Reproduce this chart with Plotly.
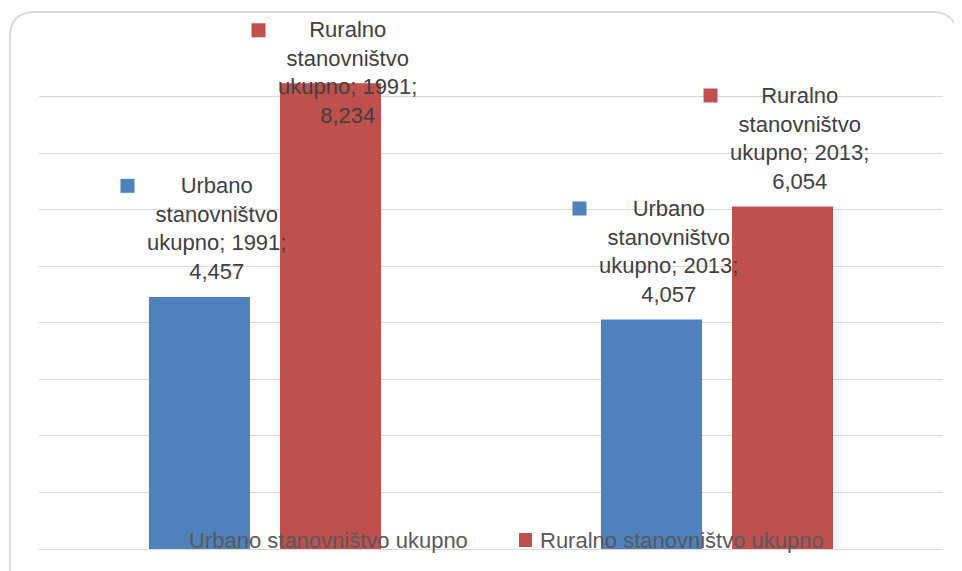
import plotly.graph_objects as go

# ---- data ----
categories = ["1991", "2013"]
series_names = ["Urbano stanovništvo ukupno", "Ruralno stanovništvo ukupno"]
label_names = ["Urbano<br>stanovništvo<br>ukupno", "Ruralno<br>stanovništvo<br>ukupno"]
urbano = [4.457, 4.057]
ruralno = [8.234, 6.054]
colors = ["#4F81BD", "#C0504D"]

# ---- layout constants (page has an 8px body margin) ----
OFF = 8
W, H = 962 - OFF, 571 - OFF
ML, MR, MT, MB = 39 - OFF, 19, 40 - OFF, 22
PLOT_W = W - ML - MR
PLOT_H = H - MT - MB
Y_MAX = 9
BARGAP = 0.42
BARGROUPGAP = 0.229
FONT = "Liberation Sans, Arial, sans-serif"
FS = 22
LINE_H = FS * 1.3
LABEL_COLOR = "#404040"

fig = go.Figure()
values = [urbano, ruralno]
for name, vals, col in zip(series_names, values, colors):
    fig.add_trace(go.Bar(x=categories, y=vals, name=name, marker=dict(color=col, line=dict(width=0)),
                         showlegend=False, hoverinfo="skip"))

px_per_unit = PLOT_H / Y_MAX
slot = (1 - BARGAP) / 2
annotations = []
shapes = []
for si, (vals, col) in enumerate(zip(values, colors)):
    offset = (si - 0.5) * slot
    for ci, (cat, v) in enumerate(zip(categories, vals)):
        xc = ci + offset
        gap = 11
        block_h = 4 * LINE_H
        top_from_plot_top = (Y_MAX - v) * px_per_unit - gap - block_h
        min_top = -24
        yshift = gap
        if top_from_plot_top < min_top:
            yshift = gap - (min_top - top_from_plot_top)
        txt = f"{label_names[si]}; {cat};<br>{v:.3f}".replace(".", ",")
        annotations.append(dict(x=xc, y=v, xref="x", yref="y", text=txt, showarrow=False,
                                xanchor="center", yanchor="bottom", xshift=17, yshift=yshift,
                                align="center", font=dict(family=FONT, size=FS, color=LABEL_COLOR)))
        c = yshift + 3.5 * LINE_H
        xp = (xc + 0.5) / 2.0
        yp = v / Y_MAX
        shapes.append(dict(type="rect", xref="paper", yref="paper", xsizemode="pixel", ysizemode="pixel",
                           xanchor=xp, yanchor=yp, x0=-79, x1=-65, y0=c - 7, y1=c + 7,
                           fillcolor=col, line=dict(width=0), layer="above"))

# manual legend (page pixel positions)
def px_x(p):
    return (p - OFF - ML) / PLOT_W

def px_y(p):
    return (H + OFF - MB - p) / PLOT_H

leg_text_x = [187, 538]
leg_sq_x = [168, 519]
for name, col, tx, sx in zip(series_names, colors, leg_text_x, leg_sq_x):
    annotations.append(dict(x=px_x(tx), y=px_y(540), xref="paper", yref="paper", text=name,
                            showarrow=False, xanchor="left", yanchor="middle",
                            font=dict(family=FONT, size=FS, color="#595959")))
    shapes.append(dict(type="rect", xref="paper", yref="paper", x0=px_x(sx), x1=px_x(sx + 13),
                       y0=px_y(547), y1=px_y(533), fillcolor=col, line=dict(width=0), layer="above"))

# outer rounded frame
fx0, fx1, fy0, fy1, r = 10, 957, 12, 600, 25
path = (f"M {px_x(fx0)},{px_y(fy1)} L {px_x(fx0)},{px_y(fy0 + r)} "
        f"Q {px_x(fx0)},{px_y(fy0)} {px_x(fx0 + r)},{px_y(fy0)} "
        f"L {px_x(fx1 - r)},{px_y(fy0)} Q {px_x(fx1)},{px_y(fy0)} {px_x(fx1)},{px_y(fy0 + r)} "
        f"L {px_x(fx1)},{px_y(fy1)}")
shapes.append(dict(type="path", xref="paper", yref="paper", path=path,
                   line=dict(color="#D9D9D9", width=2), layer="below"))

fig.update_layout(
    width=W, height=H,
    margin=dict(l=ML, r=MR, t=MT, b=MB),
    paper_bgcolor="white", plot_bgcolor="white",
    barmode="group", bargap=BARGAP, bargroupgap=BARGROUPGAP,
    showlegend=False,
    xaxis=dict(type="category", showticklabels=False, showgrid=False, zeroline=False,
               showline=False, ticks="", range=[-0.5, 1.5]),
    yaxis=dict(range=[0, Y_MAX], dtick=1, showticklabels=False, showgrid=True,
               gridcolor="#D9D9D9", gridwidth=1, zeroline=True, zerolinecolor="#D9D9D9",
               zerolinewidth=1, showline=False, ticks=""),
    annotations=annotations,
    shapes=shapes,
)

fig.write_html("out.html")
